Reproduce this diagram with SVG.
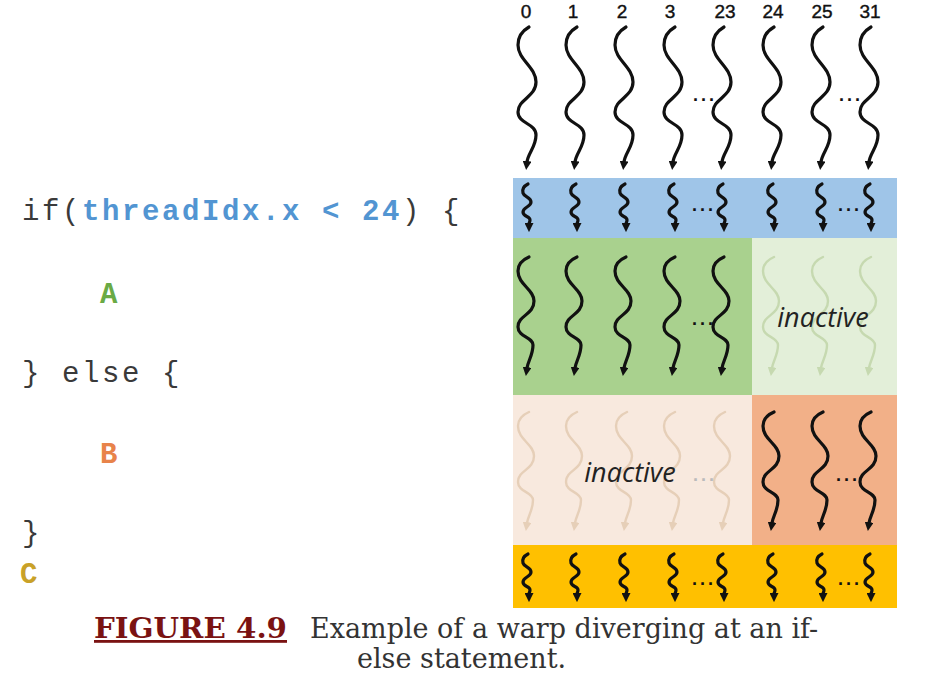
<svg xmlns="http://www.w3.org/2000/svg" xmlns:xlink="http://www.w3.org/1999/xlink" width="937" height="675" viewBox="0 0 937 675">
<style>
.lbl{font-family:"Liberation Sans",Arial,sans-serif;font-size:19px;fill:#111;text-anchor:middle;stroke:#111;stroke-width:0.4}
.code{font-family:"Liberation Mono","Courier New",monospace;font-size:29px;letter-spacing:2.6px;fill:#3a3a3a}
.kw{font-weight:bold;fill:#5295d2}
.dots{font-family:"Liberation Sans",Arial,sans-serif;font-size:18px;font-weight:bold;letter-spacing:3px;fill:#111;text-anchor:middle}
.inact{font-family:"Open Sans","Liberation Sans",sans-serif;font-style:italic;font-size:27px;fill:#222;text-anchor:middle}
.sq{fill:none;stroke:#111;stroke-width:3.2;stroke-linecap:round;marker-end:url(#ah)}
.sqg{fill:none;stroke:#c6d9b0;stroke-width:2.4;stroke-linecap:round;marker-end:url(#ahg)}
.sqp{fill:none;stroke:#e6cfb8;stroke-width:2.4;stroke-linecap:round;marker-end:url(#ahp)}
.cap{font-family:"DejaVu Serif","Liberation Serif",serif;font-size:27px;fill:#333}
</style>
<defs>
<marker id="ah" viewBox="0 0 10 10" refX="1" refY="5" markerWidth="9" markerHeight="9" orient="auto" markerUnits="userSpaceOnUse"><path d="M0,0 L10,5 L0,10 z" fill="#111"/></marker>
<marker id="ahg" viewBox="0 0 10 10" refX="1" refY="5" markerWidth="9" markerHeight="9" orient="auto" markerUnits="userSpaceOnUse"><path d="M0,0 L10,5 L0,10 z" fill="#c6d9b0"/></marker>
<marker id="ahp" viewBox="0 0 10 10" refX="1" refY="5" markerWidth="9" markerHeight="9" orient="auto" markerUnits="userSpaceOnUse"><path d="M0,0 L10,5 L0,10 z" fill="#e6cfb8"/></marker>
<path id="sT" d="M2,0 C-5,4 -9,10 -9,18 C-9,33 9,40 9,55 C9,70 -9,72 -9,85 C-9,97 9,96 9,108 C9,120 1,126 0,135"/>
<path id="sM" d="M2,0 C-5,3 -9,7 -9,14 C-9,28 7,32 7,44 C7,58 -9,58 -9,70 C-9,80 6,80 6,88 C6,98 1,104 0,111"/>
<path id="sS" d="M1,0 C-3,2 -5,5 -4,9 C-3,13 4,13 4,18 C4,23 -4,23 -4,28 C-4,33 3,32 3,36 C3,38 2,39 2,40"/>
</defs>

<g id="thread-labels">
<text class="lbl" x="526" y="18">0</text>
<text class="lbl" x="573" y="18">1</text>
<text class="lbl" x="622" y="18">2</text>
<text class="lbl" x="670" y="18">3</text>
<text class="lbl" x="725" y="18">23</text>
<text class="lbl" x="773" y="18">24</text>
<text class="lbl" x="822" y="18">25</text>
<text class="lbl" x="870" y="18">31</text>
</g>

<g id="bar-start">
<rect x="513" y="178" width="384" height="60" fill="#9fc5e8"/>
</g>
<g id="block-A">
<rect x="513" y="238" width="239" height="157" fill="#a9d18e"/>
</g>
<g id="block-A-inactive">
<rect x="752" y="238" width="145" height="157" fill="#e3efd9"/>
</g>
<g id="block-B-inactive">
<rect x="513" y="395" width="239" height="150" fill="#f8e9de"/>
</g>
<g id="block-B">
<rect x="752" y="395" width="145" height="150" fill="#f2b088"/>
</g>
<g id="bar-C">
<rect x="513" y="545" width="384" height="63" fill="#ffc000"/>
</g>

<g id="threads">
<use xlink:href="#sT" class="sq" x="527" y="27"/>
<use xlink:href="#sT" class="sq" x="575" y="27"/>
<use xlink:href="#sT" class="sq" x="624" y="27"/>
<use xlink:href="#sT" class="sq" x="673" y="27"/>
<use xlink:href="#sT" class="sq" x="722" y="27"/>
<use xlink:href="#sT" class="sq" x="772" y="27"/>
<use xlink:href="#sT" class="sq" x="821" y="27"/>
<use xlink:href="#sT" class="sq" x="869" y="27"/>
<text class="dots" x="705" y="101">...</text>
<text class="dots" x="851" y="101">...</text>

<use xlink:href="#sS" class="sq" x="527" y="184"/>
<use xlink:href="#sS" class="sq" x="575" y="184"/>
<use xlink:href="#sS" class="sq" x="624" y="184"/>
<use xlink:href="#sS" class="sq" x="673" y="184"/>
<use xlink:href="#sS" class="sq" x="722" y="184"/>
<use xlink:href="#sS" class="sq" x="772" y="184"/>
<use xlink:href="#sS" class="sq" x="821" y="184"/>
<use xlink:href="#sS" class="sq" x="869" y="184"/>
<text class="dots" x="704" y="211">...</text>
<text class="dots" x="850" y="211">...</text>

<use xlink:href="#sM" class="sq" x="527" y="257"/>
<use xlink:href="#sM" class="sq" x="575" y="257"/>
<use xlink:href="#sM" class="sq" x="624" y="257"/>
<use xlink:href="#sM" class="sq" x="673" y="257"/>
<use xlink:href="#sM" class="sq" x="722" y="257"/>
<text class="dots" x="704" y="325">...</text>
<use xlink:href="#sM" class="sqg" x="772" y="257"/>
<use xlink:href="#sM" class="sqg" x="821" y="257"/>
<use xlink:href="#sM" class="sqg" x="869" y="257"/>
<text class="inact" x="823" y="327">inactive</text>

<use xlink:href="#sM" class="sqp" x="527" y="412"/>
<use xlink:href="#sM" class="sqp" x="575" y="412"/>
<use xlink:href="#sM" class="sqp" x="625" y="412"/>
<use xlink:href="#sM" class="sqp" x="673" y="412"/>
<use xlink:href="#sM" class="sqp" x="723" y="412"/>
<text class="inact" x="630" y="482">inactive</text>
<text class="dots" x="705" y="481" style="fill:#bbb">...</text>
<use xlink:href="#sM" class="sq" x="772" y="412"/>
<use xlink:href="#sM" class="sq" x="821" y="412"/>
<use xlink:href="#sM" class="sq" x="869" y="412"/>
<text class="dots" x="848" y="481">...</text>

<use xlink:href="#sS" class="sq" x="527" y="554"/>
<use xlink:href="#sS" class="sq" x="575" y="554"/>
<use xlink:href="#sS" class="sq" x="624" y="554"/>
<use xlink:href="#sS" class="sq" x="673" y="554"/>
<use xlink:href="#sS" class="sq" x="722" y="554"/>
<use xlink:href="#sS" class="sq" x="772" y="554"/>
<use xlink:href="#sS" class="sq" x="821" y="554"/>
<use xlink:href="#sS" class="sq" x="869" y="554"/>
<text class="dots" x="704" y="585">...</text>
<text class="dots" x="850" y="585">...</text>
</g>

<g id="code">
<text class="code" x="22" y="220">if(<tspan class="kw">threadIdx.x &lt; 24</tspan>) {</text>
<text class="code" x="100" y="303" style="font-weight:bold;fill:#6aaa45">A</text>
<text class="code" x="22" y="382">} else {</text>
<text class="code" x="100" y="463" style="font-weight:bold;fill:#e8834a">B</text>
<text class="code" x="22" y="542">}</text>
<text class="code" x="20" y="583" style="font-weight:bold;fill:#c9a128">C</text>
</g>

<g id="caption">
<text x="94" y="638" textLength="193" lengthAdjust="spacingAndGlyphs" style="font-family:'DejaVu Serif','Liberation Serif',serif;font-size:28px;font-weight:bold;fill:#7a1212;text-decoration:underline">FIGURE 4.9</text>
<text class="cap" x="310" y="638">Example of a warp diverging at an if-</text>
<text class="cap" x="357" y="668">else statement.</text>
</g>
</svg>
